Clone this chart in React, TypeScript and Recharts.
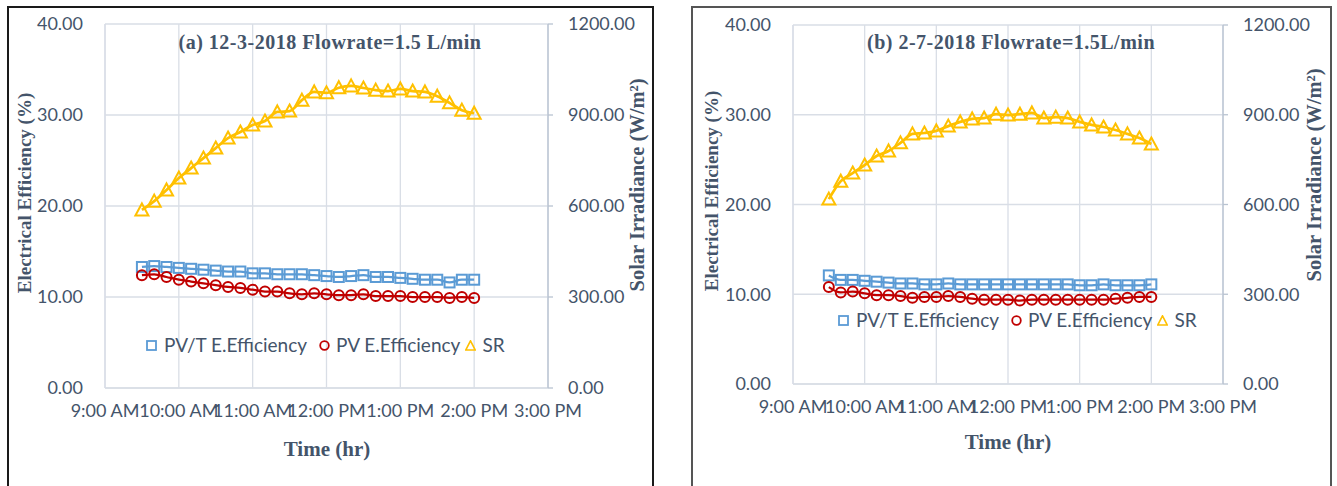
import { LineChart, Line, XAxis, YAxis, CartesianGrid } from 'recharts'

// sampling times (every 10 min)
const times = [
  '9:30', '9:40', '9:50', '10:00', '10:10', '10:20', '10:30', '10:40', '10:50', '11:00',
  '11:10', '11:20', '11:30', '11:40', '11:50', '12:00', '12:10', '12:20', '12:30', '12:40',
  '12:50', '13:00', '13:10', '13:20', '13:30', '13:40', '13:50', '14:00',
]

// (a) 12-3-2018
const pvtA = [13.3, 13.4, 13.3, 13.2, 13.1, 13.0, 12.9, 12.8, 12.8, 12.6, 12.6, 12.5, 12.5, 12.5, 12.4, 12.3, 12.2, 12.3, 12.4, 12.2, 12.2, 12.1, 12.0, 11.9, 11.9, 11.6, 11.9, 11.9]
const pvA = [12.4, 12.5, 12.2, 11.9, 11.7, 11.5, 11.3, 11.1, 11.0, 10.8, 10.6, 10.6, 10.4, 10.3, 10.4, 10.3, 10.2, 10.2, 10.3, 10.1, 10.1, 10.1, 10.0, 10.0, 10.0, 9.9, 10.0, 9.9]
const srA = [587, 616, 653, 692, 725, 758, 791, 824, 844, 867, 880, 910, 913, 949, 976, 973, 990, 996, 989, 982, 979, 986, 979, 976, 962, 940, 916, 906]

// (b) 2-7-2018
const pvtB = [12.1, 11.6, 11.6, 11.5, 11.4, 11.3, 11.2, 11.2, 11.1, 11.1, 11.2, 11.1, 11.1, 11.1, 11.1, 11.1, 11.1, 11.1, 11.1, 11.1, 11.1, 11.0, 11.0, 11.1, 11.0, 11.0, 11.0, 11.1]
const pvB = [10.8, 10.2, 10.3, 10.1, 9.9, 9.9, 9.8, 9.6, 9.7, 9.7, 9.8, 9.7, 9.5, 9.4, 9.4, 9.4, 9.3, 9.4, 9.4, 9.4, 9.4, 9.4, 9.4, 9.4, 9.5, 9.6, 9.7, 9.7]
const srB = [618, 678, 705, 732, 762, 779, 806, 836, 839, 846, 862, 876, 886, 889, 902, 899, 902, 906, 889, 892, 889, 876, 866, 859, 849, 836, 822, 802]

const hourTicks = [9, 10, 11, 12, 13, 14, 15]
const effTicks = [0, 10, 20, 30, 40]
const srTicks = [0, 300, 600, 900, 1200]
const seriesNames = ['PV/T E.Efficiency', 'PV E.Efficiency', 'SR']

const BLUE = '#5B9BD5'
const RED = '#C00000'
const GOLD = '#FFC000'
const TEXT = '#44546A'
const GRID = '#D9DEE6'
const SANS = 'Lato, "Open Sans", sans-serif'
const SERIF = '"Liberation Serif", "Times New Roman", serif'

const toHours = (t: string) => {
  const [h, m] = t.split(':').map(Number)
  return h + m / 60
}

const fmtHour = (h: number) => {
  const hh = h % 12 === 0 ? 12 : h % 12
  return `${hh}:00 ${h < 12 ? 'AM' : 'PM'}`
}

const buildData = (pvt: number[], pv: number[], sr: number[]) =>
  times.map((t, i) => ({ h: toHours(t), pvt: pvt[i], pv: pv[i], sr: sr[i] }))

const squareDot = (p: any) => (
  <rect key={`s${p.index}`} x={p.cx - 5} y={p.cy - 5} width={10} height={10} fill="none" stroke={BLUE} strokeWidth={2} />
)
const circleDot = (p: any) => (
  <circle key={`c${p.index}`} cx={p.cx} cy={p.cy} r={5} fill="none" stroke={RED} strokeWidth={2} />
)
const triDot = (p: any) => (
  <path
    key={`t${p.index}`}
    d={`M${p.cx},${p.cy - 6.5} L${p.cx + 6.5},${p.cy + 5.5} L${p.cx - 6.5},${p.cy + 5.5} Z`}
    fill="none"
    stroke={GOLD}
    strokeWidth={2}
  />
)

interface PanelProps {
  data: any[]
  margin: { top: number; right: number; bottom: number; left: number }
}

function Panel({ data, margin }: PanelProps) {
  const tick = { fill: TEXT, fontSize: 18, fontFamily: SANS }
  return (
    <div style={{ position: 'absolute', left: 0, top: 0 }}>
      <LineChart width={1337} height={486} data={data} margin={margin}>
        <CartesianGrid stroke={GRID} strokeWidth={1.3} yAxisId="left" />
        <XAxis
          dataKey="h"
          type="number"
          domain={[9, 15]}
          ticks={hourTicks}
          interval={0}
          tickFormatter={fmtHour}
          axisLine={{ stroke: GRID, strokeWidth: 1.5 }}
          tickLine={false}
          tickSize={0}
          tickMargin={16}
          height={30}
          tick={tick}
        />
        <YAxis
          yAxisId="left"
          domain={[0, 40]}
          ticks={effTicks}
          interval={0}
          tickFormatter={(v: number) => v.toFixed(2)}
          axisLine={{ stroke: GRID, strokeWidth: 1.3 }}
          tickLine={false}
          tickSize={0}
          tickMargin={22}
          width={60}
          tick={tick}
        />
        <YAxis
          yAxisId="right"
          orientation="right"
          domain={[0, 1200]}
          ticks={srTicks}
          interval={0}
          tickFormatter={(v: number) => v.toFixed(2)}
          axisLine={{ stroke: '#B8C3D1', strokeWidth: 1.3 }}
          tickLine={{ stroke: '#B8C3D1', strokeWidth: 1.3 }}
          tickSize={5}
          tickMargin={15}
          width={70}
          tick={tick}
        />
        <Line yAxisId="left" type="monotone" dataKey="pvt" stroke={BLUE} strokeWidth={2.25} dot={squareDot} isAnimationActive={false} />
        <Line yAxisId="left" type="monotone" dataKey="pv" stroke={RED} strokeWidth={2.25} dot={circleDot} isAnimationActive={false} />
        <Line yAxisId="right" type="monotone" dataKey="sr" stroke={GOLD} strokeWidth={2.75} dot={triDot} isAnimationActive={false} />
      </LineChart>
    </div>
  )
}

function LegendBox({ left, top }: { left: number; top: number }) {
  const icons = [
    <rect x={1} y={1} width={9} height={9} fill="none" stroke={BLUE} strokeWidth={1.8} />,
    <circle cx={5.5} cy={5.5} r={4.3} fill="none" stroke={RED} strokeWidth={1.8} />,
    <path d="M5.5,0.8 L10.2,10 L0.8,10 Z" fill="none" stroke={GOLD} strokeWidth={1.6} />,
  ]
  const gaps = [12, 5, 0]
  return (
    <div
      style={{
        position: 'absolute', left, top, display: 'flex', alignItems: 'center',
        fontFamily: SANS, fontSize: 19, color: TEXT, whiteSpace: 'nowrap', lineHeight: '24px',
      }}
    >
      {seriesNames.map((name, i) => (
        <span key={name} style={{ display: 'flex', alignItems: 'center', marginRight: gaps[i] }}>
          <svg width={11} height={11} style={{ marginRight: i === 0 ? 7 : 6 }}>{icons[i]}</svg>
          {name}
        </span>
      ))}
    </div>
  )
}

const titleStyle = (x: number, y: number, size: number, rotate = false): any => ({
  position: 'absolute', left: x, top: y, transform: `translate(-50%, -50%)${rotate ? ' rotate(-90deg)' : ''}`,
  fontFamily: SERIF, fontWeight: 'bold', fontSize: size, color: TEXT, whiteSpace: 'nowrap',
})

export default function App() {
  const dataA = buildData(pvtA, pvA, srA)
  const dataB = buildData(pvtB, pvB, srB)
  return (
    <div style={{ position: 'absolute', left: 0, top: 0, width: 1337, height: 486, overflow: 'hidden', background: '#fff' }}>
      <div style={{ position: 'absolute', left: 7, top: 6, width: 647, height: 520, border: '2px solid #1a1a1a', boxSizing: 'border-box' }} />
      <div style={{ position: 'absolute', left: 691, top: 6, width: 641, height: 520, border: '2px solid #555', boxSizing: 'border-box' }} />

      <Panel data={dataA} margin={{ top: 24, right: 719, bottom: 68, left: 45 }} />
      <Panel data={dataB} margin={{ top: 25, right: 44, bottom: 72, left: 733 }} />

      <div style={{ ...titleStyle(330, 42, 20), letterSpacing: 0.5 }}>(a) 12-3-2018 Flowrate=1.5 L/min</div>
      <div style={{ ...titleStyle(1011, 42, 20), letterSpacing: 0.5 }}>(b) 2-7-2018 Flowrate=1.5L/min</div>

      <div style={titleStyle(25, 193, 19, true)}>Electrical Efficiency (%)</div>
      <div style={titleStyle(637, 185, 20.5, true)}>Solar Irradiance (W/m²)</div>
      <div style={titleStyle(712, 191, 19, true)}>Electrical Efficiency (%)</div>
      <div style={titleStyle(1314, 175, 20.5, true)}>Solar Irradiance (W/m²)</div>

      <div style={titleStyle(327, 449, 21)}>Time (hr)</div>
      <div style={titleStyle(1008, 442, 21)}>Time (hr)</div>

      <LegendBox left={146} top={333} />
      <LegendBox left={838} top={308} />
    </div>
  )
}
